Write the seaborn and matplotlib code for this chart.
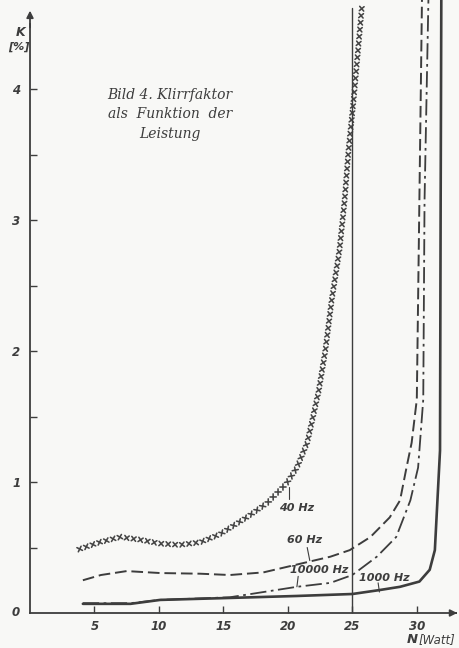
import matplotlib
matplotlib.use('Agg')
import matplotlib.pyplot as plt
import matplotlib.patheffects as pe
import seaborn as sns

# Leistung N [Watt] und Klirrfaktor K [%]
n_40hz = [3.6, 5.4, 7.0, 8.5, 10.1, 11.6, 13.2, 14.7, 16.8, 18.4, 19.9, 20.7,
          21.5, 22.0, 22.4, 22.9, 23.4, 24.0, 24.4, 24.7, 25.1, 25.4, 25.75]
k_40hz = [0.48, 0.54, 0.58, 0.56, 0.53, 0.52, 0.54, 0.60, 0.73, 0.84, 0.99, 1.11,
          1.30, 1.52, 1.70, 2.00, 2.39, 2.77, 3.15, 3.53, 3.92, 4.25, 4.64]

n_60hz = [4.1, 5.5, 7.5, 10.1, 13.2, 15.5, 18.1, 20.7, 23.3, 24.8, 26.4, 27.9,
          28.7, 29.2, 29.6, 30.0, 30.2, 30.4]
k_60hz = [0.25, 0.29, 0.32, 0.305, 0.30, 0.29, 0.31, 0.37, 0.43, 0.48, 0.58, 0.73,
          0.86, 1.11, 1.30, 1.63, 3.15, 4.68]

n_10000hz = [4.1, 7.8, 10.1, 15.5, 20.7, 23.3, 25.0, 26.9, 28.4, 29.5, 30.1,
             30.5, 30.6, 30.9]
k_10000hz = [0.075, 0.075, 0.10, 0.12, 0.20, 0.23, 0.29, 0.43, 0.58, 0.86, 1.11,
             1.63, 3.15, 4.68]

n_1000hz = [4.1, 7.8, 10.1, 15.5, 20.7, 25.0, 27.1, 28.7, 30.2, 31.0, 31.4, 31.6,
            31.8, 31.85, 31.9]
k_1000hz = [0.07, 0.07, 0.10, 0.115, 0.13, 0.145, 0.175, 0.20, 0.24, 0.33, 0.48,
            0.86, 1.24, 3.15, 4.68]

x_ticks = [5, 10, 15, 20, 25, 30]
y_ticks = [1, 2, 3, 4]
y_minor = [0.5, 1.5, 2.5, 3.5]
marker_line = 25

sns.set_theme(style='ticks')
ink = '#3d3d3d'
paper = '#f8f8f6'

fig = plt.figure(figsize=(4.6, 6.48), dpi=100, facecolor=paper)
ax = fig.add_axes([30 / 460, 35 / 648, 430 / 460, 613 / 648])
ax.set_facecolor('none')
ax.set_xlim(0, 33.35)
ax.set_ylim(0, 4.68)

# 40 Hz: Kreuzchen entlang der Kurve
sns.lineplot(x=n_40hz, y=k_40hz, ax=ax, color='#454545', lw=1.15, sort=False, estimator=None)
ax.lines[-1].set_path_effects([pe.TickedStroke(spacing=5.0, angle=a, length=0.45)
                               for a in (45, 135, 225, 315)])
sns.lineplot(x=n_60hz, y=k_60hz, ax=ax, color=ink, lw=1.4, sort=False, estimator=None,
             linestyle=(0, (6, 2.5)))
sns.lineplot(x=n_10000hz, y=k_10000hz, ax=ax, color=ink, lw=1.3, sort=False, estimator=None,
             linestyle=(0, (9, 2.5, 1.5, 2.5)))
sns.lineplot(x=n_1000hz, y=k_1000hz, ax=ax, color=ink, lw=1.9, sort=False, estimator=None)

ax.plot([marker_line, marker_line], [0, 4.62], color=ink, lw=1.0)

# Achsen mit Pfeilen
sns.despine(ax=ax)
for s in ('left', 'bottom'):
    ax.spines[s].set_color(ink)
    ax.spines[s].set_linewidth(1.3)
ax.spines['left'].set_bounds(0, 4.5)
ax.spines['bottom'].set_bounds(0, 33)
ax.annotate('', xy=(0, 4.62), xytext=(0, 4.45),
            arrowprops=dict(arrowstyle='-|>', color=ink, lw=1.3, mutation_scale=10))
ax.annotate('', xy=(33.35, 0), xytext=(32.8, 0), annotation_clip=False,
            arrowprops=dict(arrowstyle='-|>', color=ink, lw=1.3, mutation_scale=10))

ax.set_xticks(x_ticks)
ax.set_yticks(y_ticks)
ax.set_yticks(y_minor, minor=True)
ax.tick_params(which='both', direction='in', length=5, width=1.0, color=ink,
               labelcolor=ink, labelsize=8.5)
ax.tick_params(axis='y', pad=7)
ax.tick_params(axis='x', pad=5)
for lbl in ax.get_xticklabels() + ax.get_yticklabels():
    lbl.set_fontstyle('italic')
    lbl.set_fontweight('bold')

tfont = dict(color=ink, fontstyle='italic', fontweight='bold', clip_on=False)
ax.text(-1.15, 0, '0', ha='center', va='center', fontsize=8.5, **tfont)
ax.text(-0.7, 4.43, 'K', ha='center', va='center', fontsize=9, **tfont)
ax.text(-0.9, 4.32, '[%]', ha='center', va='center', fontsize=8, **tfont)
ax.text(29.2, -0.2, 'N', ha='left', va='center', fontsize=9.5, **tfont)
ax.text(30.1, -0.2, '[Watt]', ha='left', va='center', fontsize=8.5,
        color=ink, fontstyle='italic', clip_on=False)

ax.text(10.85, 4.01, 'Bild 4. Klirrfaktor\nals  Funktion  der\nLeistung',
        ha='center', va='top', multialignment='center', linespacing=1.5,
        fontsize=10, family='DejaVu Serif', fontstyle='italic', color=ink)

# Kurvenbeschriftungen mit Hinweisstrichen
labels = [('40 Hz', (20.7, 0.80), (20.1, 0.96), (20.1, 0.87)),
          ('60 Hz', (21.3, 0.56), (21.7, 0.40), (21.5, 0.50)),
          ('10000 Hz', (22.4, 0.33), (20.7, 0.20), (20.8, 0.28)),
          ('1000 Hz', (27.5, 0.27), (27.1, 0.16), (27.0, 0.23))]
for txt, pos, tip, start in labels:
    ax.text(pos[0], pos[1], txt, ha='center', va='center', fontsize=8, **tfont)
    ax.plot([start[0], tip[0]], [start[1], tip[1]], color=ink, lw=0.8)

fig.savefig('out.png', dpi=100, facecolor=paper)
